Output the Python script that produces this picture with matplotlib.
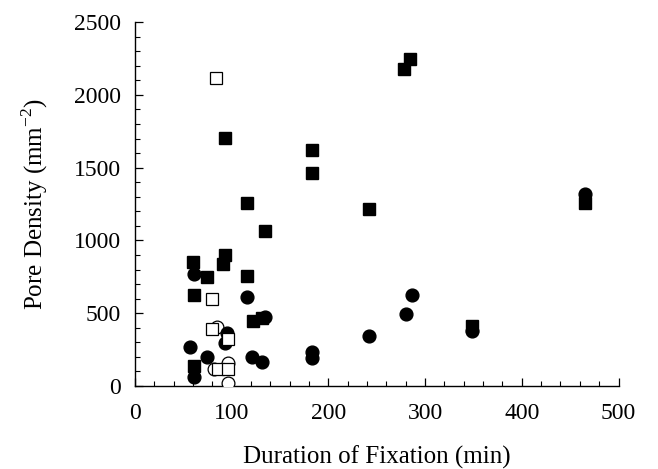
import matplotlib
matplotlib.use("Agg")
import matplotlib.pyplot as plt
from matplotlib.ticker import MultipleLocator

plt.rcParams['font.family'] = ['Liberation Serif', 'DejaVu Serif']
plt.rcParams['mathtext.fontset'] = 'custom'
plt.rcParams['mathtext.rm'] = 'Liberation Serif'

# Filled squares
fs_x = [60, 93, 91, 75, 116, 61, 122, 131, 61, 135, 93, 116, 183, 183, 242, 278, 284, 349, 465]
fs_y = [855, 900, 840, 750, 755, 625, 446, 465, 137, 1065, 1705, 1255, 1621, 1465, 1216, 2175, 2244, 412, 1257]
# Filled circles
fc_x = [61, 116, 135, 95, 93, 57, 75, 121, 131, 61, 183, 183, 242, 280, 286, 349, 465]
fc_y = [769, 613, 476, 366, 293, 270, 197, 201, 167, 64, 236, 190, 343, 494, 625, 378, 1319]
# Open squares
os_x = [84, 80, 80, 96, 86, 96]
os_y = [2113, 597, 389, 321, 115, 115]
# Open circles
oc_x = [85, 82, 96, 96]
oc_y = [407, 115, 156, 19]

fig = plt.figure(figsize=(6.58, 4.69), dpi=100)
ax = fig.add_axes([0.205, 0.177, 0.735, 0.776])

ax.plot(oc_x, oc_y, 'o', ms=9.2, mfc='white', mec='black', mew=0.9, ls='none', zorder=3)
ax.plot(fc_x, fc_y, 'o', ms=9.2, mfc='black', mec='black', ls='none', zorder=4)
ax.plot(fs_x, fs_y, 's', ms=8.4, mfc='black', mec='black', ls='none', zorder=5)
ax.plot(os_x, os_y, 's', ms=8.4, mfc='white', mec='black', mew=0.9, ls='none', zorder=6)

ax.set_xlim(0, 500)
ax.set_ylim(0, 2500)
ax.xaxis.set_major_locator(MultipleLocator(100))
ax.xaxis.set_minor_locator(MultipleLocator(20))
ax.yaxis.set_major_locator(MultipleLocator(500))
ax.yaxis.set_minor_locator(MultipleLocator(100))

for s in ['top', 'right']:
    ax.spines[s].set_visible(False)
for s in ['left', 'bottom']:
    ax.spines[s].set_linewidth(1.0)

ax.tick_params(which='major', direction='in', length=6, width=0.9, labelsize=17)
ax.tick_params(axis='x', which='major', pad=12)
ax.tick_params(axis='y', which='major', pad=10)
ax.tick_params(which='minor', direction='in', length=3.5, width=0.8)

ax.set_xlabel('Duration of Fixation (min)', fontsize=18, labelpad=16)
ax.set_ylabel(r'Pore Density (mm$^{\mathregular{-2}}$)', fontsize=18, labelpad=17)

fig.savefig('out.png', dpi=100)
